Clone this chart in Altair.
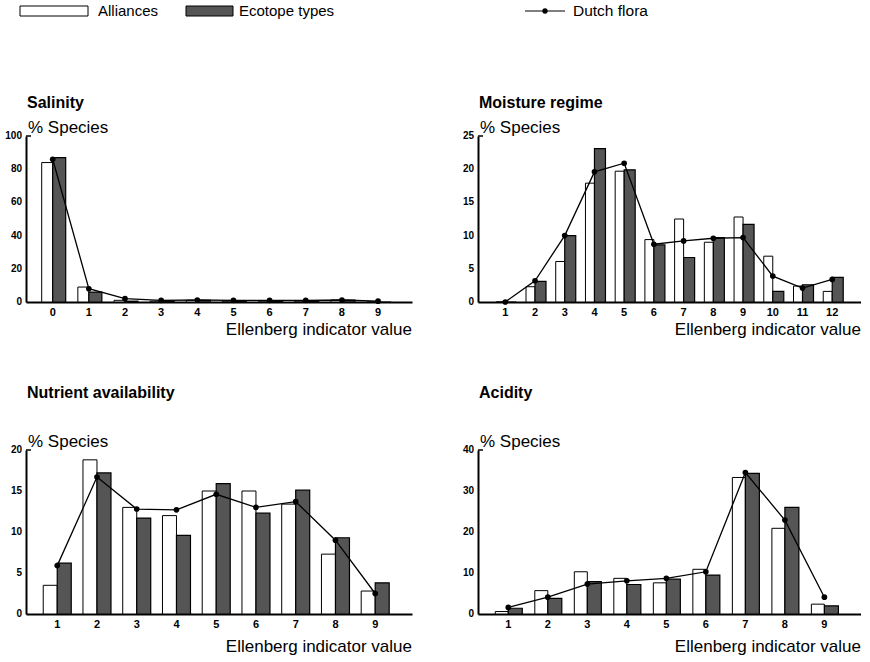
import altair as alt
import pandas as pd

FONT = "Liberation Sans"

# ---------------- data ----------------
sal_cats = [0, 1, 2, 3, 4, 5, 6, 7, 8, 9]
sal_alli = [84, 9, 1, 0.5, 1, 0.5, 0.5, 0.5, 1.2, 0]
sal_eco = [87, 6, 0.5, 0.5, 1, 0.5, 0.5, 0.5, 1.2, 0]
sal_flora = [86, 8, 2, 1, 1.2, 1, 1, 1, 1.2, 0.5]
sal_yticks = [0, 20, 40, 60, 80, 100]

moi_cats = [1, 2, 3, 4, 5, 6, 7, 8, 9, 10, 11, 12]
moi_alli = [0, 2.3, 6.1, 17.9, 19.7, 9.4, 12.5, 9.0, 12.8, 6.9, 2.4, 1.6]
moi_eco = [0, 3.1, 10.0, 23.1, 19.9, 8.6, 6.7, 9.7, 11.7, 1.6, 2.6, 3.7]
moi_flora = [0, 3.2, 10.0, 19.6, 20.9, 8.7, 9.2, 9.6, 9.7, 3.9, 2.1, 3.4]
moi_yticks = [0, 5, 10, 15, 20, 25]

nut_cats = [1, 2, 3, 4, 5, 6, 7, 8, 9]
nut_alli = [3.5, 18.8, 13.0, 12.0, 15.0, 15.0, 13.4, 7.3, 2.8]
nut_eco = [6.2, 17.2, 11.7, 9.6, 15.9, 12.3, 15.1, 9.3, 3.8]
nut_flora = [5.9, 16.7, 12.8, 12.7, 14.6, 13.0, 13.7, 9.0, 2.5]
nut_yticks = [0, 5, 10, 15, 20]

aci_cats = [1, 2, 3, 4, 5, 6, 7, 8, 9]
aci_alli = [0.6, 5.7, 10.3, 8.7, 7.6, 10.9, 33.3, 20.9, 2.4]
aci_eco = [1.4, 3.8, 7.9, 7.2, 8.5, 9.5, 34.3, 26.0, 2.0]
aci_flora = [1.6, 4.1, 7.3, 8.1, 8.7, 10.3, 34.5, 22.9, 4.1]
aci_yticks = [0, 10, 20, 30, 40]

legend_labels = ["Alliances", "Ecotope types", "Dutch flora"]
y_title = "% Species"
x_title = "Ellenberg indicator value"

ECO_FILL = "#555555"


def panel(title, cats, alli, eco, flora, yticks, xdom, w, h, bw_a, bw_e,
          title_y, xtitle_dy, legend=False):
    df = pd.DataFrame({"v": cats, "alli": alli, "eco": eco, "flora": flora})
    xs = alt.Scale(domain=xdom, nice=False, zero=False)
    ys = alt.Scale(domain=[0, max(yticks)], nice=False)
    xax = alt.Axis(title=None, ticks=False, grid=False, labels=False,
                   domainColor="black", domainWidth=2)
    yax = alt.Axis(title=None, ticks=False, grid=False, labels=False,
                   domainColor="black", domainWidth=2)
    base = alt.Chart(df)
    bars_a = base.mark_bar(width=bw_a, xOffset=-bw_a / 2, fill="white",
                           stroke="black", strokeWidth=1).encode(
        x=alt.X("v:Q", scale=xs, axis=xax),
        y=alt.Y("alli:Q", scale=ys, axis=yax),
    )
    bars_e = base.mark_bar(width=bw_e, xOffset=bw_e / 2, fill=ECO_FILL,
                           stroke="black", strokeWidth=1.2).encode(
        x=alt.X("v:Q", scale=xs), y=alt.Y("eco:Q", scale=ys))
    line = base.mark_line(color="black", strokeWidth=1.3).encode(
        x=alt.X("v:Q", scale=xs), y=alt.Y("flora:Q", scale=ys))
    pts = base.mark_point(filled=True, size=32, color="black", opacity=1).encode(
        x=alt.X("v:Q", scale=xs), y=alt.Y("flora:Q", scale=ys))

    # tick labels, placed through the scales
    xlab = base.mark_text(baseline="middle", align="center", font=FONT, fontSize=11,
                          fontWeight="bold", color="black").encode(
        x=alt.X("v:Q", scale=xs), y=alt.value(h + 11), text=alt.Text("v:Q", format="d"))
    ylab = alt.Chart(pd.DataFrame({"tk": yticks})).mark_text(
        baseline="middle", align="right", font=FONT, fontSize=10, fontWeight="bold",
        color="black").encode(
        x=alt.value(-4), y=alt.Y("tk:Q", scale=ys), text=alt.Text("tk:Q", format="d"))
    toptick = alt.Chart(pd.DataFrame({"tk": [max(yticks)]})).mark_rule(
        color="black", strokeWidth=1.5).encode(
        x=alt.value(0), x2=alt.value(5), y=alt.Y("tk:Q", scale=ys))

    ttl = alt.Chart(pd.DataFrame({"t": [title]})).mark_text(
        align="left", baseline="alphabetic", font=FONT, fontSize=16,
        fontWeight="bold", color="black").encode(
        x=alt.value(1), y=alt.value(title_y), text="t:N")
    yt = alt.Chart(pd.DataFrame({"t": [y_title]})).mark_text(
        align="left", baseline="alphabetic", font=FONT, fontSize=17,
        color="black").encode(x=alt.value(2), y=alt.value(-3), text="t:N")
    xt = alt.Chart(pd.DataFrame({"t": [x_title]})).mark_text(
        align="right", baseline="alphabetic", font=FONT, fontSize=17,
        color="black").encode(x=alt.value(w), y=alt.value(h + xtitle_dy), text="t:N")

    layers = [bars_a, bars_e, line, pts, xlab, ylab, toptick, ttl, yt, xt]

    if legend:
        ly = -125  # legend centre line, relative to panel top
        lg = pd.DataFrame({"t": legend_labels})
        r1 = alt.Chart(lg.iloc[[0]]).mark_rect(fill="white", stroke="black", strokeWidth=1).encode(
            x=alt.value(-6), x2=alt.value(62), y=alt.value(ly - 5), y2=alt.value(ly + 5))
        r2 = alt.Chart(lg.iloc[[1]]).mark_rect(fill=ECO_FILL, stroke="black", strokeWidth=1).encode(
            x=alt.value(160), x2=alt.value(207), y=alt.value(ly - 5), y2=alt.value(ly + 5))
        rl = alt.Chart(lg.iloc[[2]]).mark_rule(color="black", strokeWidth=1.2).encode(
            x=alt.value(499), x2=alt.value(539), y=alt.value(ly))
        rp = alt.Chart(lg.iloc[[2]]).mark_point(filled=True, size=28, color="black", opacity=1).encode(
            x=alt.value(519), y=alt.value(ly))
        t1 = alt.Chart(lg.iloc[[0]]).mark_text(align="left", baseline="middle", font=FONT,
                                               fontSize=15, color="black").encode(
            x=alt.value(72), y=alt.value(ly), text="t:N")
        t2 = alt.Chart(lg.iloc[[1]]).mark_text(align="left", baseline="middle", font=FONT,
                                               fontSize=15, color="black").encode(
            x=alt.value(213), y=alt.value(ly), text="t:N")
        t3 = alt.Chart(lg.iloc[[2]]).mark_text(align="left", baseline="middle", font=FONT,
                                               fontSize=15.5, color="black").encode(
            x=alt.value(547), y=alt.value(ly), text="t:N")
        layers += [r1, r2, rl, rp, t1, t2, t3]

    return alt.layer(*layers).properties(width=w, height=h)


sal = panel("Salinity", sal_cats, sal_alli, sal_eco, sal_flora, sal_yticks, [-0.6, 9.8],
            386, 166, 11, 13, title_y=-28, xtitle_dy=33, legend=True)
moi = panel("Moisture regime", moi_cats, moi_alli, moi_eco, moi_flora, moi_yticks, [0.25, 12.8],
            383, 166, 9, 11, title_y=-28, xtitle_dy=33)
nut = panel("Nutrient availability", nut_cats, nut_alli, nut_eco, nut_flora, nut_yticks, [0.34, 9.8],
            386, 164, 14, 14, title_y=-52, xtitle_dy=38)
aci = panel("Acidity", aci_cats, aci_alli, aci_eco, aci_flora, aci_yticks, [0.36, 9.8],
            383, 164, 13, 14, title_y=-52, xtitle_dy=38)

chart = alt.concat(sal, moi, nut, aci, columns=2, bounds="flush",
                   spacing={"row": 148, "column": 66}).properties(
    padding={"left": 5, "top": 4, "right": 0, "bottom": 0},
    background="white",
).configure_view(stroke=None)

chart.save("out.html", embed_options={"renderer": "svg", "actions": False})
